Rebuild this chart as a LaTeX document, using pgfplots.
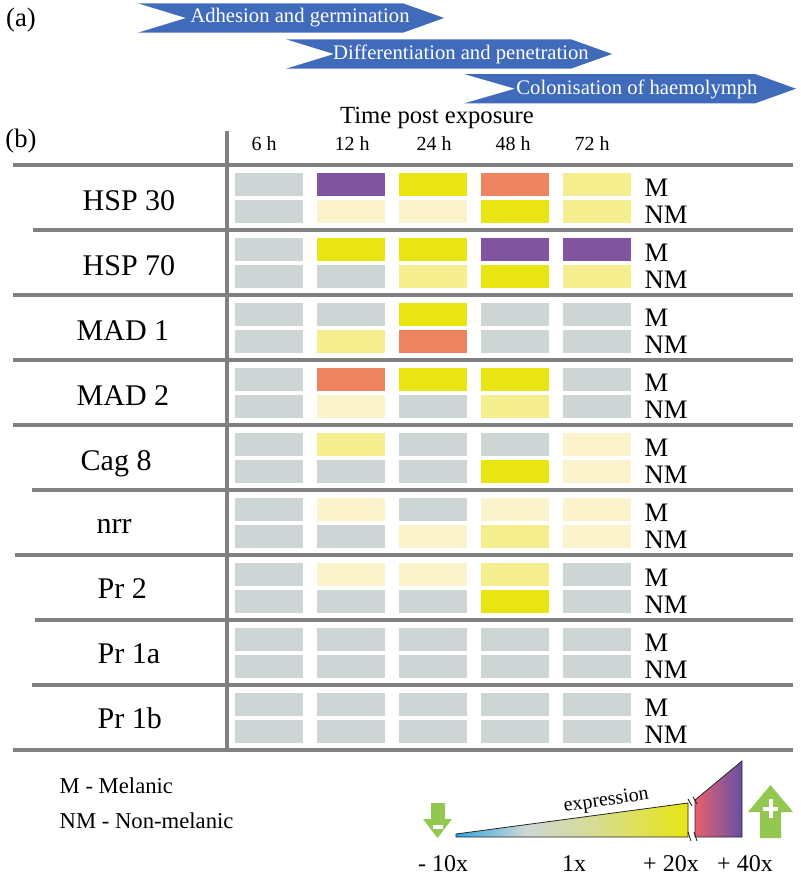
\documentclass[border=0pt]{standalone}
\usepackage{pgfplots}
\pgfplotsset{compat=1.18}
\usepackage{pgfplotstable}
\usepackage{fontspec}
\setmainfont{Liberation Serif}

% cell colours, weakest to strongest
\definecolor{cgray}{RGB}{206,214,213}
\definecolor{cpale}{RGB}{250,243,203}
\definecolor{clight}{RGB}{244,238,142}
\definecolor{cyel}{RGB}{232,229,19}
\definecolor{corange}{RGB}{238,132,95}
\definecolor{cviolet}{RGB}{128,84,159}
\definecolor{arrowblue}{RGB}{64,106,186}
\definecolor{gridgray}{RGB}{128,128,128}
\definecolor{expblue}{RGB}{50,165,225}
\definecolor{expgray}{RGB}{205,215,212}
\definecolor{exppink}{RGB}{232,96,110}
\definecolor{exppurple}{RGB}{100,80,165}
\definecolor{signgreen}{RGB}{146,200,80}

% tikz maps 25bp..75bp of a shading onto the path
\pgfdeclarehorizontalshading{explow}{100bp}{color(0bp)=(expblue); color(25bp)=(expblue);
  color(40bp)=(expgray); color(55bp)=(expgray!65!cyel); color(75bp)=(cyel); color(100bp)=(cyel)}
\pgfdeclarehorizontalshading{exphigh}{100bp}{color(0bp)=(exppink); color(25bp)=(exppink);
  color(75bp)=(exppurple); color(100bp)=(exppurple)}

\newcommand{\fs}[1]{\fontsize{#1}{1.2\dimexpr#1pt\relax}\selectfont}

% one heat-map cell, 68 x 22.5 px
\pgfdeclareplotmark{cell}{%
  \pgfpathrectangle{\pgfqpoint{-25.5pt}{-8.45pt}}{\pgfqpoint{51pt}{16.9pt}}%
  \pgfusepathqfill}

% g = gene (HSP 30 ... Pr 1b), r = 0 melanic / 1 non-melanic
% c0..c4 = 6 h, 12 h, 24 h, 48 h, 72 h
% n = no change, p/l/y = weak/medium/strong up, o = +20x, v = +40x
\pgfplotstableread{
g r c0 c1 c2 c3 c4
0 0 n v y o l
0 1 n p p y l
1 0 n y y v v
1 1 n n l y l
2 0 n n y n n
2 1 n l o n n
3 0 n o y y n
3 1 n p n l n
4 0 n l n n p
4 1 n n n y p
5 0 n p n p p
5 1 n n p l p
6 0 n p p l n
6 1 n n n y n
7 0 n n n n n
7 1 n n n n n
8 0 n n n n n
8 1 n n n n n
}\cells

\begin{document}
\begin{tikzpicture}
\begin{axis}[
  width=600pt, height=663.75pt, scale only axis,
  xmin=0, xmax=800, ymin=0, ymax=885, y dir=reverse,
  hide axis, clip=false,
  cellplot/.style={
    only marks, mark=cell, scatter, scatter src=explicit symbolic,
    scatter/classes={
      n={cgray}, p={cpale}, l={clight}, y={cyel}, o={corange}, v={cviolet}}
  },
]
\path (0,0) rectangle (800,885);

% (a) phases
\fill[arrowblue] (138,3.3) -- (403,3.3) -- (444,18) -- (403,32.7) -- (138,32.7) -- (186,18) -- cycle;
\fill[arrowblue] (286,39.3) -- (571,39.3) -- (612,54) -- (571,68.7) -- (286,68.7) -- (334,54) -- cycle;
\fill[arrowblue] (464,74) -- (755,74) -- (796,88.7) -- (755,103.4) -- (464,103.4) -- (515,88.7) -- cycle;
\node[font=\fs{15.5}, text=white] at (300,18) {Adhesion and germination};
\node[font=\fs{15.5}, text=white] at (461,54) {Differentiation and penetration};
\node[font=\fs{15.5}, text=white] at (637,89) {Colonisation of haemolymph};
\node[font=\fs{20}] at (21,20) {(a)};
\node[font=\fs{20}] at (21,141) {(b)};

% (b) header
\node[font=\fs{18.5}, anchor=base] at (437,123) {Time post exposure};
\node[font=\fs{15}, anchor=base] at (264,150) {6 h};
\node[font=\fs{15}, anchor=base] at (352,150) {12 h};
\node[font=\fs{15}, anchor=base] at (434,150) {24 h};
\node[font=\fs{15}, anchor=base] at (513,150) {48 h};
\node[font=\fs{15}, anchor=base] at (592,150) {72 h};

% grid
\draw[gridgray, line width=3.6pt] (13,165) -- (793,165);
\draw[gridgray, line width=3.6pt] (33,230) -- (793,230);
\draw[gridgray, line width=3.6pt] (13,295) -- (793,295);
\draw[gridgray, line width=3.6pt] (13,360) -- (793,360);
\draw[gridgray, line width=3.6pt] (13,425) -- (793,425);
\draw[gridgray, line width=3.6pt] (32,490) -- (793,490);
\draw[gridgray, line width=3.6pt] (15,555) -- (793,555);
\draw[gridgray, line width=3.6pt] (35,620) -- (793,620);
\draw[gridgray, line width=3.6pt] (32,685) -- (793,685);
\draw[gridgray, line width=3.6pt] (13,750) -- (793,750);
\draw[gridgray, line width=3.6pt] (227,131) -- (227,750);

% cells
\pgfplotsinvokeforeach{0,...,4}{
  \addplot[cellplot] table[x expr=269+82*#1,
    y expr=184.5+65*\thisrow{g}+27*\thisrow{r}, meta=c#1] {\cells};
}

% gene names
\node[font=\fs{22.5}, anchor=base west] at (78,210) {HSP 30};
\node[font=\fs{22.5}, anchor=base west] at (78,275) {HSP 70};
\node[font=\fs{22.5}, anchor=base west] at (72,340) {MAD 1};
\node[font=\fs{22.5}, anchor=base west] at (72,405) {MAD 2};
\node[font=\fs{22.5}, anchor=base west] at (76,470) {Cag 8};
\node[font=\fs{22.5}, anchor=base west] at (92,533) {nrr};
\node[font=\fs{22.5}, anchor=base west] at (93,598) {Pr 2};
\node[font=\fs{22.5}, anchor=base west] at (93,663) {Pr 1a};
\node[font=\fs{22.5}, anchor=base west] at (93,728) {Pr 1b};

\pgfplotsinvokeforeach{0,...,8}{
  \node[font=\fs{20}, anchor=base west] at (640,{196+65*#1}) {M};
  \node[font=\fs{20}, anchor=base west] at (640,{223+65*#1}) {NM};
}

% key
\node[font=\fs{17}, anchor=base west] at (55,793) {M - Melanic};
\node[font=\fs{17}, anchor=base west] at (55,828) {NM - Non-melanic};

\shadedraw[shading=explow, draw=black!85, line width=0.6pt]
  (456,834) -- (688,803) -- (688,837) -- (456,837) -- cycle;
\shadedraw[shading=exphigh, draw=black!85, line width=0.6pt]
  (695,800) -- (742,761) -- (742,837) -- (695,837) -- cycle;
\draw[black!85, line width=0.7pt] (688,799) -- (692,806) (693,797) -- (697,804)
  (688,832) -- (691,841) (694,832) -- (697,841);
\node[font=\fs{15}, anchor=base, rotate=8.5] at (607,805.5) {expression};

\fill[signgreen] (431,803) -- (445,803) -- (445,819) -- (452,819) -- (437.5,838) -- (423,819) -- (431,819) -- cycle;
\fill[white] (432.5,825) rectangle (442.5,828.5);
\fill[signgreen] (770.5,785) -- (793,812) -- (781,812) -- (781,838) -- (760,838) -- (760,812) -- (748,812) -- cycle;
\fill[white] (763,806.5) rectangle (778,811);
\fill[white] (768.5,799) rectangle (773,818);

\node[font=\fs{18}, anchor=base] at (443,871) {- 10x};
\node[font=\fs{18}, anchor=base] at (574,871) {1x};
\node[font=\fs{18}, anchor=base] at (671,871) {+ 20x};
\node[font=\fs{18}, anchor=base] at (745,871) {+ 40x};
\end{axis}
\end{tikzpicture}
\end{document}
